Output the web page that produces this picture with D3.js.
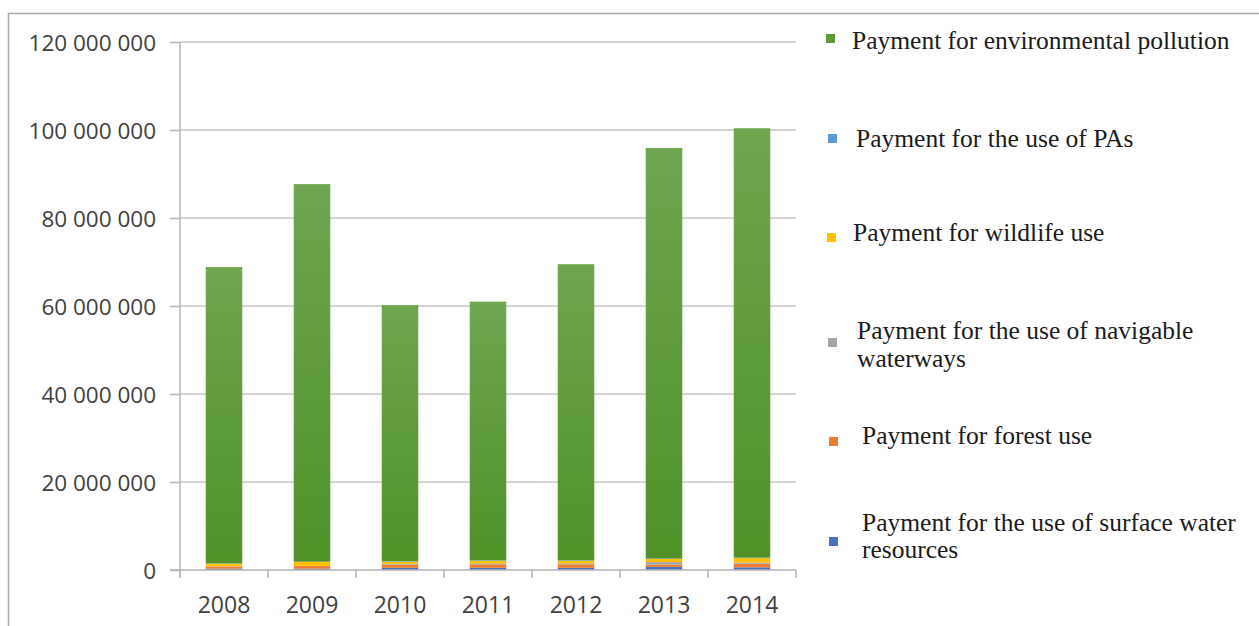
<!DOCTYPE html>
<html>
<head>
<meta charset="utf-8">
<script src="https://cdn.jsdelivr.net/npm/d3@7"></script>
<style>
  html, body { margin: 0; padding: 0; background: #fff; }
  svg { display: block; }
</style>
</head>
<body>
<svg id="chart" width="1259" height="626"></svg>
<script>
// ---- Data (in units) ----
const years = ["2008", "2009", "2010", "2011", "2012", "2013", "2014"];
const surfaceWater = [300000, 300000, 500000, 500000, 500000, 700000, 600000];
const forestUse    = [500000, 600000, 700000, 800000, 800000, 500000, 800000];
const navigable    = [50000, 50000, 200000, 200000, 200000, 600000, 300000];
const wildlifeUse  = [600000, 900000, 500000, 600000, 600000, 700000, 1000000];
const paUse        = [50000, 50000, 100000, 100000, 100000, 100000, 100000];
const pollution    = [67350000, 85800000, 58200000, 58800000, 67300000, 93300000, 97600000];
const yTicks = [0, 20000000, 40000000, 60000000, 80000000, 100000000, 120000000];

const seriesNames = [
  "Payment for the use of surface water resources",
  "Payment for forest use",
  "Payment for the use of navigable waterways",
  "Payment for wildlife use",
  "Payment for the use of PAs",
  "Payment for environmental pollution"
];
const seriesValues = [surfaceWater, forestUse, navigable, wildlifeUse, paUse, pollution];
const seriesColors = ["#4472c4", "#ed7d31", "#a5a5a5", "#ffc000", "#5b9bd5", "#5b9a37"];

// legend (top to bottom) with line breaks
const legendItems = [
  { idx: 5, lines: ["Payment for environmental pollution"] },
  { idx: 4, lines: ["Payment for the use of PAs"] },
  { idx: 3, lines: ["Payment for wildlife use"] },
  { idx: 2, lines: ["Payment for the use of navigable", "waterways"] },
  { idx: 1, lines: ["Payment for forest use"] },
  { idx: 0, lines: ["Payment for the use of surface water", "resources"] }
];

// ---- Build table ----
const table = years.map((y, i) => {
  const row = { year: y };
  seriesNames.forEach((n, s) => row[n] = seriesValues[s][i]);
  return row;
});
const stack = d3.stack().keys(seriesNames)(table);

const svg = d3.select("#chart");

// frame
svg.append("path")
  .attr("d", "M8.5,626 L8.5,13.5 L1259,13.5")
  .attr("fill", "none").attr("stroke", "#a6a6a6").attr("stroke-width", 1.5);

const x = d3.scaleBand().domain(years).range([180, 796]).paddingInner(0.585).paddingOuter(0.2925);
const y = d3.scaleLinear().domain([0, 120000000]).range([570, 42]);

// gradient for green
const defs = svg.append("defs");
const grad = defs.append("linearGradient").attr("id", "gGreen")
  .attr("x1", 0).attr("y1", 0).attr("x2", 0).attr("y2", 1);
grad.append("stop").attr("offset", "0%").attr("stop-color", "#6fa651");
grad.append("stop").attr("offset", "100%").attr("stop-color", "#4f9127");

// gridlines
svg.append("g").selectAll("line").data(yTicks.filter(t => t > 0)).join("line")
  .attr("x1", 180).attr("x2", 796)
  .attr("y1", d => y(d)).attr("y2", d => y(d))
  .attr("stroke", "#c4c4c4").attr("stroke-width", 1.3);

// y axis
const yAxis = svg.append("g").attr("transform", "translate(180,0)")
  .call(d3.axisLeft(y).tickValues(yTicks).tickSize(10).tickPadding(14)
    .tickFormat(d => d3.format(",")(d).replace(/,/g, " ")));
yAxis.select(".domain").attr("stroke", "#b5b5b5").attr("stroke-width", 1.5)
  .attr("d", "M0,42V577");
yAxis.selectAll(".tick line").attr("stroke", "#b5b5b5").attr("stroke-width", 1.5);
yAxis.selectAll("text")
  .attr("font-family", "'Open Sans', sans-serif").attr("font-size", 22.5)
  .attr("fill", "#404040").attr("dy", "0.36em");

// bars
svg.append("g").selectAll("g").data(stack).join("g")
  .attr("fill", (d, i) => i === 5 ? "url(#gGreen)" : seriesColors[i])
  .selectAll("rect").data(d => d).join("rect")
  .attr("x", d => x(d.data.year))
  .attr("width", x.bandwidth())
  .attr("y", d => y(d[1]))
  .attr("height", d => y(d[0]) - y(d[1]));

// x axis
const boundaries = years.map((yy, i) => 180 + i * (616 / 7)).concat([796]);
const xAxisG = svg.append("g");
xAxisG.append("line").attr("x1", 170).attr("x2", 796).attr("y1", 570).attr("y2", 570)
  .attr("stroke", "#b5b5b5").attr("stroke-width", 1.5);
xAxisG.selectAll("line.tk").data(boundaries).join("line").attr("class", "tk")
  .attr("x1", d => d).attr("x2", d => d).attr("y1", 570).attr("y2", 578)
  .attr("stroke", "#b5b5b5").attr("stroke-width", 1.5);
xAxisG.selectAll("text").data(years).join("text")
  .attr("x", d => x(d) + x.bandwidth() / 2).attr("y", 605)
  .attr("text-anchor", "middle").attr("dy", "0.36em")
  .attr("font-family", "'Open Sans', sans-serif").attr("font-size", 23)
  .attr("fill", "#404040").text(d => d);

// legend
const legendPos = [
  { sq: [826, 34], tx: 852, ty: [40] },
  { sq: [828, 134], tx: 856, ty: [138] },
  { sq: [827, 233], tx: 853, ty: [232] },
  { sq: [828, 338], tx: 857, ty: [330, 358] },
  { sq: [829, 437], tx: 862, ty: [435] },
  { sq: [829, 537], tx: 862, ty: [522, 549] }
];
const lg = svg.append("g");
legendItems.forEach((it, k) => {
  const p = legendPos[k];
  lg.append("rect").attr("x", p.sq[0]).attr("y", p.sq[1]).attr("width", 9).attr("height", 9)
    .attr("fill", seriesColors[it.idx]);
  it.lines.forEach((ln, j) => {
    lg.append("text").attr("x", p.tx).attr("y", p.ty[j]).attr("dy", "0.35em")
      .attr("font-family", "'Liberation Serif', 'Times New Roman', serif")
      .attr("font-size", 25.5).attr("fill", "#1a1a1a").text(ln);
  });
});
</script>
</body>
</html>
